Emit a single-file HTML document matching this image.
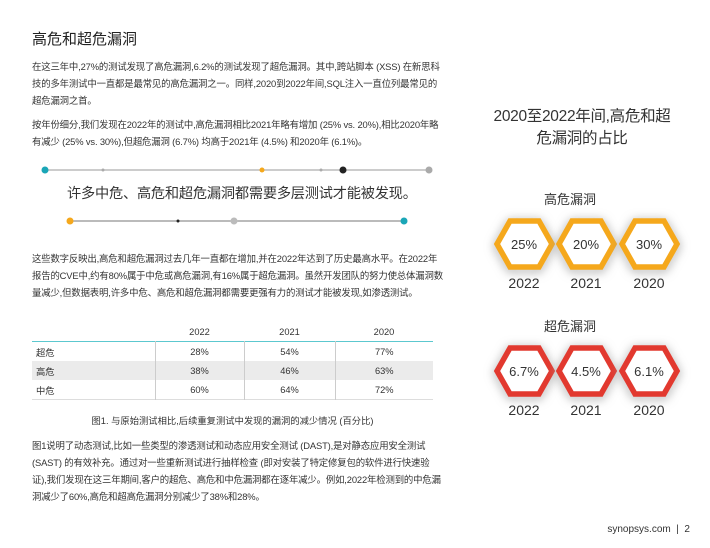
<!DOCTYPE html><html><head><meta charset="utf-8"><style>
body{margin:0;width:710px;height:548px;background:#fff;position:relative;overflow:hidden;font-family:"Liberation Sans","Noto Sans CJK SC",sans-serif;color:#333}
.a{position:absolute}
p{margin:0}
.t{font-size:9.4px;line-height:17px;color:#333;width:412px;left:32px;letter-spacing:-0.15px}
table{border-collapse:collapse;font-size:9.3px}
td{height:19px;padding:0;vertical-align:middle}
</style></head><body>
<div class="a" style="left:32px;top:28px;font-size:15px;color:#222">高危和超危漏洞</div>
<p class="a t" style="top:58px">在这三年中,27%的测试发现了高危漏洞,6.2%的测试发现了超危漏洞。其中,跨站脚本 (XSS) 在新思科技的多年测试中一直都是最常见的高危漏洞之一。同样,2020到2022年间,SQL注入一直位列最常见的超危漏洞之首。</p>
<p class="a t" style="top:116px">按年份细分,我们发现在2022年的测试中,高危漏洞相比2021年略有增加 (25% vs. 20%),相比2020年略有减少 (25% vs. 30%),但超危漏洞 (6.7%) 均高于2021年 (4.5%) 和2020年 (6.1%)。</p>
<svg class="a" style="left:0;top:150px" width="450" height="90">
<line x1="45" y1="20" x2="430" y2="20" stroke="#bbb" stroke-width="1.5"/>
<circle cx="45" cy="20" r="3.5" fill="#1aa6b7"/><circle cx="103" cy="20" r="1.5" fill="#aaa"/><circle cx="262" cy="20" r="2.5" fill="#f5a81c"/><circle cx="321" cy="20" r="1.5" fill="#aaa"/><circle cx="343" cy="20" r="3.5" fill="#222"/><circle cx="429" cy="20" r="3.5" fill="#aaa"/>
<line x1="70" y1="71" x2="404" y2="71" stroke="#777" stroke-width="1"/>
<circle cx="70" cy="71" r="3.5" fill="#f5a81c"/><circle cx="178" cy="71" r="1.5" fill="#222"/><circle cx="234" cy="71" r="3.5" fill="#bbb"/><circle cx="404" cy="71" r="3.5" fill="#1aa6b7"/>
</svg>
<div class="a" style="left:67px;top:183px;font-size:14.2px;color:#333;letter-spacing:-0.2px">许多中危、高危和超危漏洞都需要多层测试才能被发现。</div>
<p class="a t" style="top:250px">这些数字反映出,高危和超危漏洞过去几年一直都在增加,并在2022年达到了历史最高水平。在2022年报告的CVE中,约有80%属于中危或高危漏洞,有16%属于超危漏洞。虽然开发团队的努力使总体漏洞数量减少,但数据表明,许多中危、高危和超危漏洞都需要更强有力的测试才能被发现,如渗透测试。</p>
<table class="a" style="left:32px;top:322px;width:401px">
<tr style="border-bottom:1.5px solid #5cc8cf"><td style="width:123px"></td><td style="width:89px;text-align:center">2022</td><td style="width:91px;text-align:center">2021</td><td style="text-align:center">2020</td></tr>
<tr><td style="padding-left:4px">超危</td><td style="text-align:center;border-left:1px solid #ccc">28%</td><td style="text-align:center;border-left:1px solid #ccc">54%</td><td style="text-align:center;border-left:1px solid #ccc">77%</td></tr>
<tr style="background:#ebebeb"><td style="padding-left:4px">高危</td><td style="text-align:center;border-left:1px solid #ccc">38%</td><td style="text-align:center;border-left:1px solid #ccc">46%</td><td style="text-align:center;border-left:1px solid #ccc">63%</td></tr>
<tr style="border-bottom:1.5px solid #ddd"><td style="padding-left:4px">中危</td><td style="text-align:center;border-left:1px solid #ccc">60%</td><td style="text-align:center;border-left:1px solid #ccc">64%</td><td style="text-align:center;border-left:1px solid #ccc">72%</td></tr>
</table>
<div class="a" style="left:32px;top:413px;width:401px;text-align:center;font-size:9.3px">图1. 与原始测试相比,后续重复测试中发现的漏洞的减少情况 (百分比)</div>
<p class="a t" style="top:437px">图1说明了动态测试,比如一些类型的渗透测试和动态应用安全测试 (DAST),是对静态应用安全测试 (SAST) 的有效补充。通过对一些重新测试进行抽样检查 (即对安装了特定修复包的软件进行快速验证),我们发现在这三年期间,客户的超危、高危和中危漏洞都在逐年减少。例如,2022年检测到的中危漏洞减少了60%,高危和超高危漏洞分别减少了38%和28%。</p>
<div class="a" style="left:482px;top:106px;width:200px;text-align:center;font-size:15.5px;line-height:22px;color:#333;letter-spacing:-0.3px">2020至2022年间,高危和超<br>危漏洞的占比</div>
<div class="a" style="left:530px;top:189px;width:80px;text-align:center;font-size:13px">高危漏洞</div>
<div class="a" style="left:530px;top:316px;width:80px;text-align:center;font-size:13px">超危漏洞</div>
<svg class="a" style="left:470px;top:200px" width="240" height="230">
<defs><filter id="s" x="-50%" y="-50%" width="200%" height="200%"><feGaussianBlur stdDeviation="5"/></filter></defs>
<g stroke-width="5.5" fill="#fff" stroke-linejoin="miter">
<g stroke="#f5a81c">
<polygon points="28,44 41,21 70,21 83,44 70,67 41,67" transform="translate(-1,2)" stroke="#999" filter="url(#s)"/>
<polygon points="28,44 41,21 70,21 83,44 70,67 41,67" transform="translate(-1,0)"/>
<polygon points="28,44 41,21 70,21 83,44 70,67 41,67" transform="translate(61,2)" stroke="#999" filter="url(#s)"/>
<polygon points="28,44 41,21 70,21 83,44 70,67 41,67" transform="translate(61,0)"/>
<polygon points="28,44 41,21 70,21 83,44 70,67 41,67" transform="translate(124,2)" stroke="#999" filter="url(#s)"/>
<polygon points="28,44 41,21 70,21 83,44 70,67 41,67" transform="translate(124,0)"/>
</g>
<g stroke="#e2392f">
<polygon points="28,171 41,148 70,148 83,171 70,194 41,194" transform="translate(-1,2)" stroke="#999" filter="url(#s)"/>
<polygon points="28,171 41,148 70,148 83,171 70,194 41,194" transform="translate(-1,0)"/>
<polygon points="28,171 41,148 70,148 83,171 70,194 41,194" transform="translate(61,2)" stroke="#999" filter="url(#s)"/>
<polygon points="28,171 41,148 70,148 83,171 70,194 41,194" transform="translate(61,0)"/>
<polygon points="28,171 41,148 70,148 83,171 70,194 41,194" transform="translate(124,2)" stroke="#999" filter="url(#s)"/>
<polygon points="28,171 41,148 70,148 83,171 70,194 41,194" transform="translate(124,0)"/>
</g>
</g>
<g font-family="Liberation Sans,sans-serif" font-size="13" fill="#333" text-anchor="middle">
<text x="54" y="49">25%</text><text x="116" y="49">20%</text><text x="179" y="49">30%</text>
<text x="54" y="88" font-size="14">2022</text><text x="116" y="88" font-size="14">2021</text><text x="179" y="88" font-size="14">2020</text>
<text x="54" y="176">6.7%</text><text x="116" y="176">4.5%</text><text x="179" y="176">6.1%</text>
<text x="54" y="215" font-size="14">2022</text><text x="116" y="215" font-size="14">2021</text><text x="179" y="215" font-size="14">2020</text>
</g>
</svg>
<div class="a" style="right:20px;top:524px;font-size:10px;color:#333">synopsys.com &nbsp;|&nbsp; 2</div>
</body></html>
